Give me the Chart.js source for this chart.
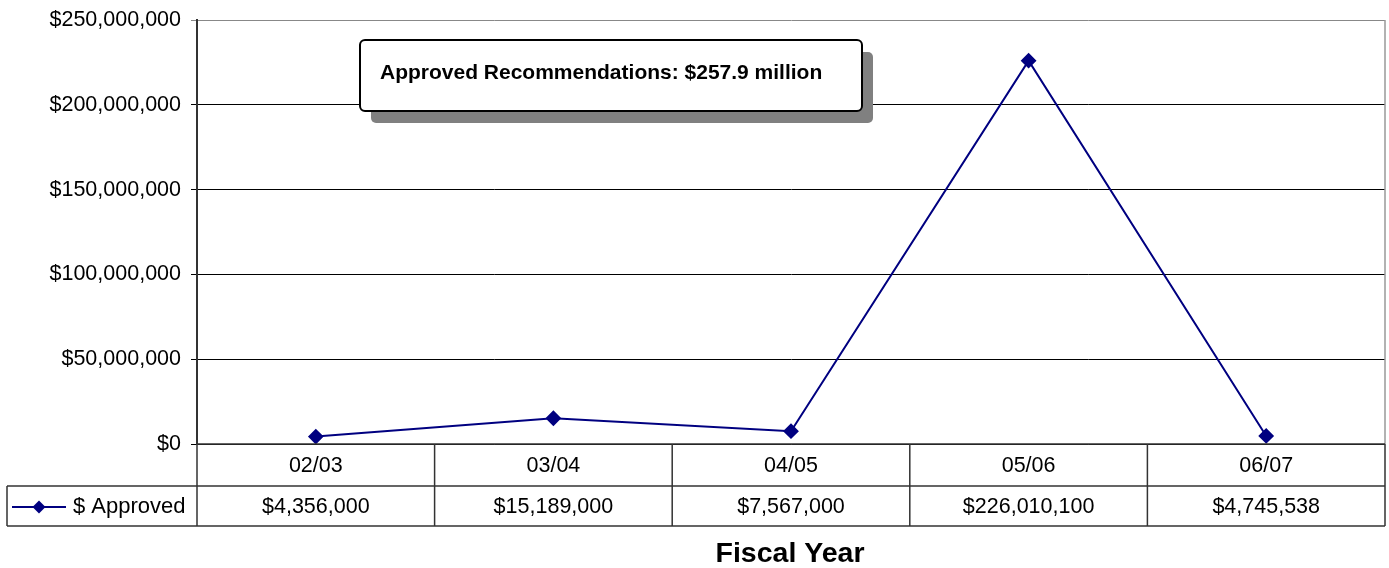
<!DOCTYPE html>
<html>
<head>
<meta charset="utf-8">
<script src="https://cdn.jsdelivr.net/npm/chart.js@4"></script>
<style>
  html, body { margin: 0; padding: 0; background: #fff; overflow: hidden; }
  #wrap { width: 1389px; height: 568px; }
</style>
</head>
<body>
<div id="wrap"><canvas id="approvedChart"></canvas></div>
<script>
// Fiscal years and approved amounts
const years = ["02/03", "03/04", "04/05", "05/06", "06/07"];
const approved = [4356000, 15189000, 7567000, 226010100, 4745538];
const seriesName = "$ Approved";
const noteText = "Approved Recommendations: $257.9 million";
const axisTitle = "Fiscal Year";

const FONT = "'Liberation Sans', Arial, sans-serif";
const NAVY = "#000080";

const money = (v) => "$" + Number(v).toLocaleString("en-US");

// Draws the text box with its drop shadow
function drawNote(ctx) {
  const x = 360, y = 40, w = 502, h = 71;
  ctx.save();
  ctx.fillStyle = "#808080";
  ctx.beginPath();
  ctx.roundRect(x + 11, y + 12, w, h, 5);
  ctx.fill();
  ctx.fillStyle = "#fff";
  ctx.strokeStyle = "#000";
  ctx.lineWidth = 2;
  ctx.beginPath();
  ctx.roundRect(x, y, w, h, 5);
  ctx.fill();
  ctx.stroke();
  ctx.fillStyle = "#000";
  ctx.font = "bold 21px " + FONT;
  ctx.textAlign = "left";
  ctx.textBaseline = "middle";
  ctx.fillText(noteText, x + 20, y + 33);
  ctx.restore();
}

// Data table under the plot: year row, then legend key + amounts
const tablePlugin = {
  id: "dataTable",
  afterDraw(chart) {
    const { ctx, chartArea: area } = chart;
    const xs = chart.scales.x;
    const n = years.length;
    const colW = (area.right - area.left) / n;
    const row1 = area.bottom, row2 = row1 + 42, row3 = row2 + 40;
    const legendLeft = 7;

    ctx.save();
    // right plot border
    ctx.strokeStyle = "#999";
    ctx.lineWidth = 1.5;
    ctx.beginPath();
    ctx.moveTo(area.right, area.top);
    ctx.lineTo(area.right, row1);
    ctx.stroke();

    ctx.strokeStyle = "#333";
    ctx.lineWidth = 1.5;
    ctx.beginPath();
    // horizontal rules
    ctx.moveTo(area.left, row1); ctx.lineTo(area.right, row1);
    ctx.moveTo(legendLeft, row2); ctx.lineTo(area.right, row2);
    ctx.moveTo(legendLeft, row3); ctx.lineTo(area.right, row3);
    // column dividers
    for (let i = 0; i <= n; i++) {
      const cx = area.left + i * colW;
      ctx.moveTo(cx, row1); ctx.lineTo(cx, row3);
    }
    ctx.moveTo(legendLeft, row2); ctx.lineTo(legendLeft, row3);
    ctx.stroke();

    ctx.fillStyle = "#000";
    ctx.font = "21.5px " + FONT;
    ctx.textAlign = "center";
    ctx.textBaseline = "middle";
    years.forEach((yr, i) => {
      const cx = xs.getPixelForValue(i);
      ctx.fillText(yr, cx, (row1 + row2) / 2 + 1);
      ctx.fillText(money(approved[i]), cx, (row2 + row3) / 2 + 1);
    });

    // legend key
    const ky = (row2 + row3) / 2 + 1;
    ctx.strokeStyle = NAVY;
    ctx.lineWidth = 2;
    ctx.beginPath();
    ctx.moveTo(12, ky); ctx.lineTo(66, ky);
    ctx.stroke();
    ctx.fillStyle = NAVY;
    ctx.beginPath();
    ctx.moveTo(39, ky - 6.5); ctx.lineTo(45.5, ky); ctx.lineTo(39, ky + 6.5); ctx.lineTo(32.5, ky);
    ctx.closePath();
    ctx.fill();
    ctx.fillStyle = "#000";
    ctx.textAlign = "left";
    ctx.font = "22px " + FONT;
    ctx.fillText(seriesName, 73, ky);

    // axis title
    ctx.font = "bold 28.5px " + FONT;
    ctx.textAlign = "center";
    ctx.textBaseline = "alphabetic";
    ctx.fillText(axisTitle, 790, 562);

    drawNote(ctx);
    ctx.restore();
  }
};

const ctx = document.getElementById("approvedChart").getContext("2d");
new Chart(ctx, {
  type: "line",
  data: {
    labels: years,
    datasets: [{
      label: seriesName,
      data: approved,
      borderColor: NAVY,
      backgroundColor: NAVY,
      borderWidth: 2,
      pointStyle: "rectRot",
      pointRadius: 6.5,
      pointHoverRadius: 6.5,
      tension: 0,
      fill: false
    }]
  },
  options: {
    responsive: true,
    maintainAspectRatio: false,
    animation: false,
    layout: { autoPadding: false, padding: { left: 0, right: 4, top: 20, bottom: 124 } },
    plugins: {
      legend: { display: false },
      tooltip: { enabled: false }
    },
    scales: {
      x: {
        display: false,
        offset: true
      },
      y: {
        min: 0,
        max: 250000000,
        afterFit: (s) => { s.width = 197; s.paddingTop = 0; s.paddingBottom = 0; },
        ticks: {
          stepSize: 50000000,
          padding: 10,
          color: "#000",
          font: { family: FONT, size: 21.5 },
          callback: (v) => money(v)
        },
        grid: {
          color: (c) => (c.tick && c.tick.value === 250000000 ? "#888" : "#000"),
          lineWidth: 1,
          tickLength: 6
        },
        border: { color: "#333", width: 2 }
      }
    }
  },
  plugins: [tablePlugin]
});
</script>
</body>
</html>
